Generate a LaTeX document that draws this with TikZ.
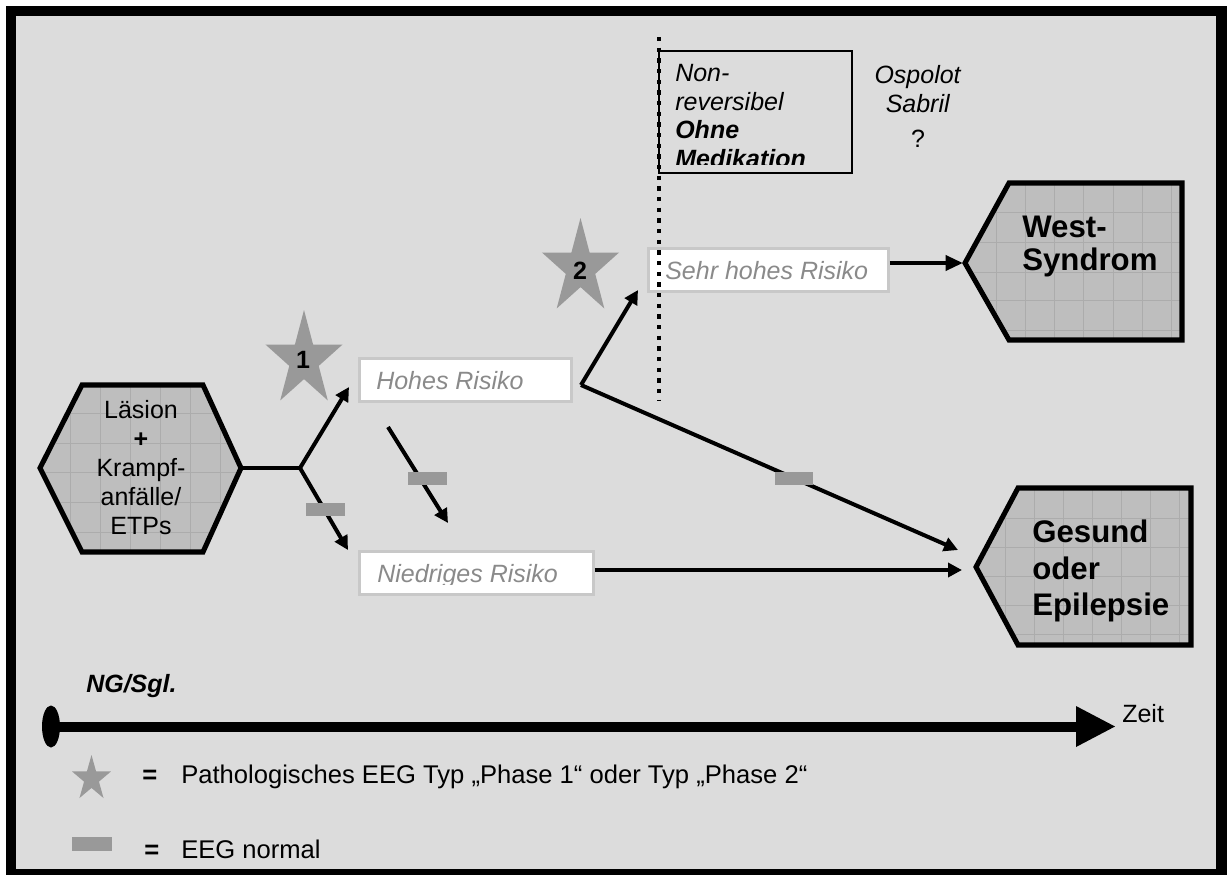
\documentclass[tikz,border=0pt]{standalone}
\usepackage{fontspec}
\setmainfont{Liberation Sans}
\usetikzlibrary{shapes.geometric,arrows.meta,calc}
\definecolor{bg}{HTML}{DCDCDC}
\definecolor{shapefill}{HTML}{BEBEBE}
\definecolor{gridc}{HTML}{ACACAC}
\definecolor{starc}{HTML}{999999}
\definecolor{boxborder}{HTML}{C8C8C8}
\definecolor{risktext}{HTML}{8A8A8A}
\newcommand\myfs{\fontsize{18.75}{21.75}\selectfont}
\newcommand\starpath[3]{% center x, center y, radius
  \begin{scope}[shift={(#1,#2)}, xscale=0.81]
  \fill[starc] (270:#3) -- (306:0.382*#3) -- (342:#3) -- (18:0.382*#3) -- (54:#3) -- (90:0.382*#3) -- (126:#3) -- (162:0.382*#3) -- (198:#3) -- (234:0.382*#3) -- cycle;
  \end{scope}}
\begin{document}
\begin{tikzpicture}[x=0.75pt,y=-0.75pt,
  txt/.style={font=\myfs, inner sep=0pt},
  riskbox/.style={draw=boxborder, line width=2.2pt, fill=white, anchor=north west, minimum height=32.25pt, inner sep=0pt},
  risklabel/.style={inner sep=0pt, anchor=base west, text=risktext, font={\myfs\itshape}},
  arr/.style={line width=3pt, -{Triangle[length=10.5pt,width=10.5pt]}},
  arrtwo/.style={line width=3.6pt, -{Triangle[length=13pt,width=11pt]}},
  plainline/.style={line width=3pt},
  bar/.style={fill=starc},
  starlabel/.style={inner sep=0pt, font={\myfs\bfseries}},
  endbox/.style={line width=3.8pt, draw=black, line join=miter},
  gridline/.style={draw=gridc, line width=0.6pt},
  dotline/.style={line width=3.2pt, dash pattern=on 3.2pt off 4.8pt},
]
\useasboundingbox (0,0) rectangle (1227,875);
% frame
\fill[black] (6,6) rectangle (1227,875);
\fill[bg] (16,16) rectangle (1216,869);

% hexagon
\begin{scope}
\clip (40,468) -- (82,385) -- (203,385) -- (241,468) -- (203,552) -- (82,552) -- cycle;
\fill[shapefill] (30,370) rectangle (250,560);
\foreach \gx in {70,100,130,160,190,220} \draw[gridline] (\gx,370) -- (\gx,560);
\foreach \gy in {413,443,472,502,532} \draw[gridline] (30,\gy) -- (250,\gy);
\end{scope}
\draw[endbox] (40,468) -- (82,385) -- (203,385) -- (241,468) -- (203,552) -- (82,552) -- cycle;
\coordinate (hexE) at (241,468);
\node[txt, align=center, anchor=north] (hexT) at (141,400) {Läsion\\\textbf{+}\\Krampf-\\anfälle/\\ETPs};

% West-Syndrom
\begin{scope}
\clip (965,263) -- (1009,183) -- (1182,183) -- (1182,340) -- (1009,340) -- cycle;
\fill[shapefill] (960,175) rectangle (1190,345);
\foreach \gx in {996,1025,1054,1083,1113,1142,1171} \draw[gridline] (\gx,175) -- (\gx,345);
\foreach \gy in {212,242,272,300,330} \draw[gridline] (960,\gy) -- (1190,\gy);
\end{scope}
\draw[endbox] (965,263) -- (1009,183) -- (1182,183) -- (1182,340) -- (1009,340) -- cycle;
\coordinate (wtip) at (963,263);
\node[inner sep=0pt, anchor=north west, align=left, font={\fontsize{23.4}{24.75}\selectfont\bfseries}] (westT) at (1022,216) {West-\\Syndrom};

% Gesund
\begin{scope}
\clip (976,567) -- (1018,488) -- (1191,488) -- (1191,645) -- (1018,645) -- cycle;
\fill[shapefill] (970,480) rectangle (1200,650);
\foreach \gx in {1005,1034,1063,1092,1121,1150,1179} \draw[gridline] (\gx,480) -- (\gx,650);
\foreach \gy in {518,547,576,605,634} \draw[gridline] (970,\gy) -- (1200,\gy);
\end{scope}
\draw[endbox] (976,567) -- (1018,488) -- (1191,488) -- (1191,645) -- (1018,645) -- cycle;
\node[inner sep=0pt, anchor=north west, align=left, font={\fontsize{23.4}{27.4}\selectfont\bfseries}] (gesT) at (1032,520) {Gesund\\oder\\Epilepsie};

% risk boxes
\node[riskbox, minimum width=159pt] (hohes) at (358,357) {};
\node[risklabel] (hohesT) at (376,389) {Hohes Risiko};
\node[riskbox, minimum width=175.5pt] (niedrig) at (358,550) {};
\begin{scope}
\clip (358,550) rectangle (592,584);
\node[risklabel] (niedrigT) at (377,582) {Niedriges Risiko};
\end{scope}
\node[riskbox, minimum width=180pt] (sehr) at (647,247) {};
\node[risklabel] (sehrT) at (665,279) {Sehr hohes Risiko};

% dotted line and top box
\coordinate (dtop) at (659,37);
\coordinate (dbot) at (659,401);
\draw[dotline] (dtop) -- (dbot);
\draw[line width=1.5pt] (659,51) rectangle (852,173);
\begin{scope}
\clip (660,52) rectangle (851,164.5);
\node[txt, anchor=north west, align=left, font={\fontsize{18.75}{21.5}\selectfont}] (nonT) at (675,64) {\textit{Non-}\\\textit{reversibel}\\\textbf{\textit{Ohne}}\\\textbf{\textit{Medikation}}};
\end{scope}
\node[txt, anchor=north, align=center, font={\fontsize{18.75}{21.6}\selectfont}] (ospT) at (918,65) {\textit{Ospolot}\\\textit{Sabril}\\[5pt]?};

% stars
\starpath{304}{360}{50}
\node[starlabel] (s1) at (303,360) {1};
\starpath{580.5}{268}{50}
\node[starlabel] (s2) at (580,271) {2};

% connectors
\coordinate (j1) at (300,468);
\coordinate (t1) at (349,387);
\coordinate (t2) at (348,550);
\coordinate (m1) at (388,427);
\coordinate (m2) at (448,523);
\coordinate (j2) at (581,385);
\coordinate (t3) at (638,290);
\coordinate (t4) at (958,550);
\coordinate (t5) at (962,570);
\draw[plainline] (hexE) -- (j1);
\draw[arr] (j1) -- (t1);
\draw[arr] (j1) -- (t2);
\draw[arr] (m1) -- (m2);
\draw[arr] (j2) -- (t3);
\draw[arr] (j2) -- (t4);
\draw[arr] (niedrig.east |- t5) -- (t5);
\draw[arrtwo] (sehr.east |- wtip) -- (wtip);

% EEG normal bars
\fill[bar] (306,503) rectangle (345,516);
\fill[bar] (408,472) rectangle (447,485);
\fill[bar] (775,472) rectangle (813,485);

% timeline
\node[txt, anchor=base west, font={\myfs\bfseries\itshape}] (ngT) at (86,692) {NG/Sgl.};
\coordinate (tl0) at (51,726.5);
\coordinate (tl1) at (1077,726.5);
\fill (tl0) ellipse [x radius=9, y radius=21];
\draw[line width=7.5pt] (tl0) -- (tl1);
\fill (1076,706) -- (1115,726.5) -- (1076,747) -- cycle;
\node[txt, anchor=base west] (zeitT) at (1122,722) {Zeit};

% legend
\begin{scope}[shift={(91.5,778.8)}, xscale=0.86]
\fill[starc] (270:23.8) -- (306:9.1) -- (342:23.8) -- (18:9.1) -- (54:23.8) -- (90:9.1) -- (126:23.8) -- (162:9.1) -- (198:23.8) -- (234:9.1) -- cycle;
\end{scope}
\coordinate (ls) at (91.5,778.8);
\node[txt, anchor=base west, font={\fontsize{19.2}{22}\selectfont\bfseries}] (eq1) at (142,783) {=};
\node[txt, anchor=base west, font={\fontsize{19.2}{22}\selectfont}] (leg1) at (181,783) {Pathologisches EEG Typ „Phase 1“ oder Typ „Phase 2“};
\fill[bar] (72,837) rectangle (112,851);
\node[txt, anchor=base west, font={\fontsize{19.2}{22}\selectfont\bfseries}] (eq2) at (144,858) {=};
\node[txt, anchor=base west, font={\fontsize{19.2}{22}\selectfont}] (leg2) at (181,858) {EEG normal};
\end{tikzpicture}
\end{document}
